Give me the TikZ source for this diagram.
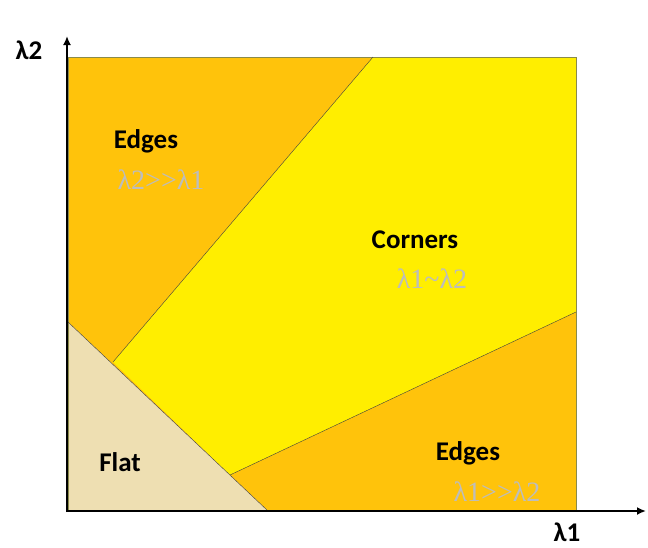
\documentclass[tikz,border=0pt]{standalone}
\usepackage{fontspec}
\setmainfont{Carlito}
\newfontfamily\grayfont{Liberation Serif}
\usetikzlibrary{arrows.meta}
\definecolor{edgecol}{HTML}{FFC30B}
\definecolor{cornercol}{HTML}{FFEE00}
\definecolor{flatcol}{HTML}{EEDFB2}
\definecolor{rimcol}{HTML}{8A8A4A}
\definecolor{notecol}{HTML}{BDBDBD}
\begin{document}
\begin{tikzpicture}[x=1pt, y=-1pt,
  every node/.style={font=\fontsize{27}{30}\selectfont\bfseries},
  note/.style={font=\grayfont\fontsize{28}{30}\selectfont, text=notecol}]
  \useasboundingbox (0,0) rectangle (648,547);
  % Regions
  \coordinate (tl) at (68,57);
  \coordinate (tr) at (576,57);
  \coordinate (bl) at (68,511);
  \coordinate (br) at (576,511);
  \coordinate (f1) at (68,322);
  \coordinate (f2) at (268,511);
  \coordinate (c1) at (373,57);
  \coordinate (c2) at (113,362);
  \coordinate (c3) at (576,312);
  \coordinate (c4) at (230,475);
  \fill[edgecol] (tl) rectangle (br);
  \fill[cornercol] (c1) -- (tr) -- (c3) -- (c4) -- (c2) -- cycle;
  \fill[flatcol] (f1) -- (f2) -- (bl) -- cycle;
  \draw[rimcol, thin] (tl) rectangle (br);
  \draw[black!75, thin] (c1) -- (c2) (c3) -- (c4) (f1) -- (f2);
  % Axes
  \draw[line width=2.6pt, -{Latex[length=9pt,width=8pt]}] (67,512) -- (67,36);
  \draw[line width=2.6pt, -{Latex[length=9pt,width=8pt]}] (66,511) -- (646,511);
  \node (ylab) at (29,50) {λ2};
  \node (xlab) at (567,532) {λ1};
  % Labels
  \node (edge1) at (146,141) {Edges};
  \node[note] (note1) at (161,180) {λ2>>λ1};
  \node (corner) at (415,240) {Corners};
  \node[note] (note2) at (432,279) {λ1\textasciitilde λ2};
  \node (flat) at (120,462) {Flat};
  \node (edge2) at (468,453) {Edges};
  \node[note] (note3) at (497,492) {λ1>>λ2};
\end{tikzpicture}
\end{document}
